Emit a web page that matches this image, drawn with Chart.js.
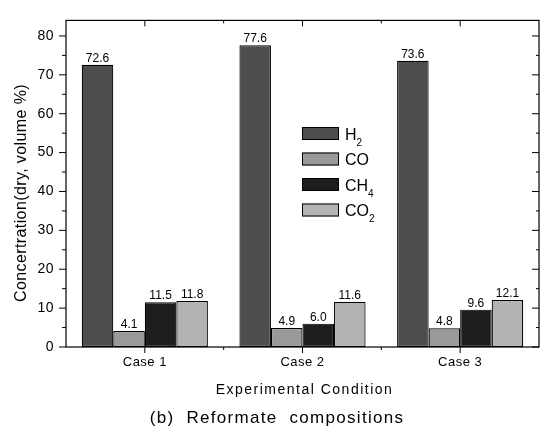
<!DOCTYPE html>
<html>
<head>
<meta charset="utf-8">
<script src="https://cdn.jsdelivr.net/npm/chart.js@4.4.1/dist/chart.umd.min.js"></script>
<style>
    body { margin: 0; background: #fff; }
    canvas { display: block; }
</style>
</head>
<body>
<canvas id="chart" width="542" height="431"></canvas>
<script>
const categories = ['Case 1', 'Case 2', 'Case 3'];
const seriesNames = ['H2', 'CO', 'CH4', 'CO2'];
const h2Values = [72.6, 77.6, 73.6];
const coValues = [4.1, 4.9, 4.8];
const ch4Values = [11.5, 6.0, 9.6];
const co2Values = [11.8, 11.6, 12.1];
const yTickValues = [0, 10, 20, 30, 40, 50, 60, 70, 80];
const yMin = 0;
const yMax = 84;

const yTitle = 'Concertration(dry, volume %)';
const xTitle = 'Experimental Condition';
const caption = '(b)  Reformate  compositions';

const seriesColors = ['#4d4d4d', '#999999', '#1e1e1e', '#b3b3b3'];
const FONT = "'Liberation Sans', Arial, sans-serif";

// draws "CH4" style labels with the digits as subscripts
function drawFormula(ctx, text, x, y, size) {
    const parts = text.match(/[^0-9]+|[0-9]+/g);
    parts.forEach(part => {
        const isSub = /^[0-9]+$/.test(part);
        const s = isSub ? Math.round(size * 0.62) : size;
        ctx.font = s + 'px ' + FONT;
        ctx.fillText(part, x, isSub ? y + size * 0.38 : y);
        x += ctx.measureText(part).width;
    });
}

const textSpacing = {
    id: 'textSpacing',
    beforeDraw(chart) {
        chart.ctx.letterSpacing = '0.5px';
    }
};

const valueLabels = {
    id: 'valueLabels',
    afterDatasetsDraw(chart) {
        const ctx = chart.ctx;
        ctx.save();
        ctx.letterSpacing = '0px';
        ctx.font = '12px ' + FONT;
        ctx.fillStyle = '#000';
        ctx.textAlign = 'center';
        ctx.textBaseline = 'alphabetic';
        chart.data.datasets.forEach((ds, i) => {
            chart.getDatasetMeta(i).data.forEach((bar, j) => {
                ctx.fillText(ds.data[j].toFixed(1), bar.x, bar.y - 3);
            });
        });
        ctx.restore();
    }
};

const frameAndTicks = {
    id: 'frameAndTicks',
    afterDraw(chart) {
        const ctx = chart.ctx;
        const { left, right, top, bottom } = chart.chartArea;
        const x = chart.scales.x;
        const y = chart.scales.y;

        ctx.save();
        ctx.strokeStyle = '#000';
        ctx.lineWidth = 1.2;
        ctx.strokeRect(left, top, right - left, bottom - top);

        ctx.beginPath();
        // y ticks: majors at labels, minors halfway
        yTickValues.forEach((v, i) => {
            const py = y.getPixelForValue(v);
            ctx.moveTo(left - 7, py); ctx.lineTo(left, py);
            ctx.moveTo(right, py); ctx.lineTo(right - 7, py);
            if (i < yTickValues.length - 1) {
                const my = y.getPixelForValue((v + yTickValues[i + 1]) / 2);
                ctx.moveTo(left - 4, my); ctx.lineTo(left, my);
                ctx.moveTo(right, my); ctx.lineTo(right - 3, my);
            }
        });
        // x ticks: majors at categories, minors between them
        categories.forEach((c, i) => {
            const px = x.getPixelForValue(i);
            ctx.moveTo(px, bottom); ctx.lineTo(px, bottom + 6);
            ctx.moveTo(px, top); ctx.lineTo(px, top + 6);
            if (i < categories.length - 1) {
                const mx = (px + x.getPixelForValue(i + 1)) / 2;
                ctx.moveTo(mx, bottom); ctx.lineTo(mx, bottom + 3);
                ctx.moveTo(mx, top); ctx.lineTo(mx, top + 3);
            }
        });
        ctx.lineWidth = 1;
        ctx.stroke();

        // legend
        const legX = 302, legY = 127, rowH = 25.5;
        chart.data.datasets.forEach((ds, i) => {
            const by = legY + i * rowH;
            ctx.fillStyle = ds.backgroundColor;
            ctx.fillRect(legX, by, 37, 13);
            ctx.strokeRect(legX + 0.5, by + 0.5, 36, 12);
            ctx.fillStyle = '#000';
            ctx.letterSpacing = '0px';
            ctx.textAlign = 'left';
            ctx.textBaseline = 'alphabetic';
            drawFormula(ctx, ds.label, legX + 43, by + 12.5, 16);
        });

        // axis titles and caption
        ctx.fillStyle = '#000';
        ctx.textAlign = 'center';
        ctx.textBaseline = 'alphabetic';

        ctx.font = '14px ' + FONT;
        ctx.letterSpacing = '1.5px';
        ctx.fillText(xTitle, (left + right) / 2 + 2, 394);

        ctx.font = '17px ' + FONT;
        ctx.letterSpacing = '1.3px';
        ctx.fillText(caption, 277, 423);

        ctx.save();
        ctx.translate(26, 193);
        ctx.rotate(-Math.PI / 2);
        ctx.font = '16px ' + FONT;
        ctx.letterSpacing = '0.4px';
        ctx.fillText(yTitle, 0, 0);
        ctx.restore();

        ctx.restore();
    }
};

function initChart() {
    const ctx = document.getElementById('chart').getContext('2d');
    const allValues = [h2Values, coValues, ch4Values, co2Values];

    return new Chart(ctx, {
        type: 'bar',
        data: {
            labels: categories,
            datasets: seriesNames.map((name, i) => ({
                label: name,
                data: allValues[i],
                backgroundColor: seriesColors[i],
                borderColor: '#000',
                borderWidth: 1.2,
                borderSkipped: false,
                categoryPercentage: 0.8,
                barPercentage: 1.0,
            }))
        },
        options: {
            responsive: false,
            animation: false,
            devicePixelRatio: 1,
            layout: { padding: { top: 12, right: 3, left: 0, bottom: 0 } },
            plugins: {
                legend: { display: false },
                tooltip: { enabled: false },
            },
            scales: {
                x: {
                    grid: { display: false, drawTicks: false },
                    border: { display: false },
                    ticks: {
                        color: '#000',
                        padding: 8,
                        font: { family: FONT, size: 13 },
                    },
                    afterFit: scale => { scale.height = 84; },
                },
                y: {
                    min: yMin,
                    max: yMax,
                    grid: { display: false, drawTicks: false },
                    border: { display: false },
                    afterBuildTicks: scale => {
                        scale.ticks = yTickValues.map(v => ({ value: v }));
                    },
                    ticks: {
                        color: '#000',
                        padding: 12,
                        font: { family: FONT, size: 14 },
                    },
                    afterFit: scale => { scale.width = 66; },
                }
            }
        },
        plugins: [textSpacing, valueLabels, frameAndTicks]
    });
}

document.addEventListener('DOMContentLoaded', function() {
    initChart();
});
</script>
</body>
</html>
